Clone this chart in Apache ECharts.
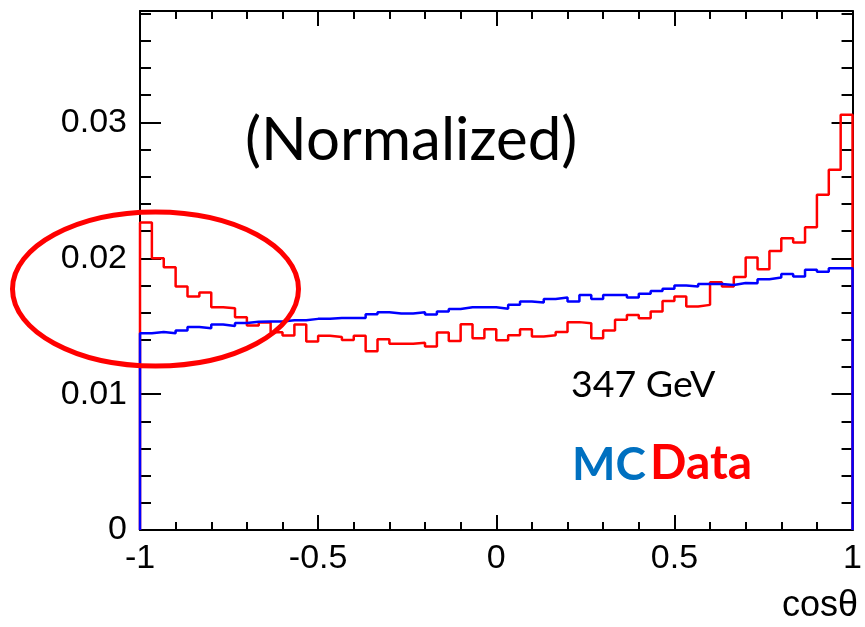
<!DOCTYPE html>
<html>
<head>
<meta charset="utf-8">
<script src="https://cdn.jsdelivr.net/npm/echarts@6/dist/echarts.min.js"></script>
<style>
html,body{margin:0;padding:0;background:#fff;}
#c{width:865px;height:627px;}
</style>
</head>
<body>
<div id="c"></div>
<script>
// ---- data ----
const xRange = [-1, 1];
const nBins = 60;
const dataValues = [
  0.02263, 0.0200, 0.01934, 0.01792, 0.01718, 0.01748, 0.01640, 0.01632, 0.01566, 0.01505,
  0.01527, 0.01455, 0.01432, 0.01512, 0.01387, 0.01429, 0.01421, 0.01399, 0.01429, 0.01316,
  0.01404, 0.01370, 0.01370, 0.01379, 0.01350, 0.01453, 0.01392, 0.01515, 0.01411, 0.01478,
  0.01397, 0.01433, 0.01478, 0.01424, 0.01433, 0.01458, 0.01530, 0.01522, 0.01411, 0.01468,
  0.01548, 0.01583, 0.01559, 0.01608, 0.01686, 0.01718, 0.01645, 0.01657, 0.01824, 0.01792,
  0.01863, 0.02005, 0.01920, 0.02054, 0.02148, 0.02116, 0.02229, 0.02467, 0.02651, 0.03056
];
const mcValues = [
  0.01448, 0.01458, 0.01448, 0.01468, 0.01495, 0.01485, 0.01512, 0.01502, 0.01524, 0.01532,
  0.01534, 0.01534, 0.01544, 0.01544, 0.01554, 0.01554, 0.01561, 0.01561, 0.01561, 0.01588,
  0.01603, 0.01593, 0.01593, 0.01603, 0.01586, 0.01608, 0.01627, 0.01640, 0.01640, 0.01640,
  0.01628, 0.01657, 0.01681, 0.01674, 0.01701, 0.01711, 0.01681, 0.01730, 0.01701, 0.01730,
  0.01730, 0.01711, 0.01738, 0.01760, 0.01775, 0.01799, 0.01792, 0.01811, 0.01811, 0.01804,
  0.01818, 0.01816, 0.01846, 0.01858, 0.01885, 0.01865, 0.01915, 0.01900, 0.01927, 0.01927
];
const xTickLabels = [-1, -0.5, 0, 0.5, 1];
const yTickLabels = [0, 0.01, 0.02, 0.03];
const yMax = 0.0382;

// ---- build step outlines from bin edges ----
function histPoints(vals) {
  const w = (xRange[1] - xRange[0]) / nBins;
  const pts = [[xRange[0], 0]];
  vals.forEach((v, i) => pts.push([xRange[0] + i * w, v]));
  pts.push([xRange[1], vals[vals.length - 1]]);
  pts.push([xRange[1], 0]);
  return pts;
}

const numFont = "'Liberation Sans', Arial, sans-serif";
const txtFont = "Lato, 'Open Sans', sans-serif";

const chart = echarts.init(document.getElementById('c'), null, {renderer: 'canvas'});
const axisLine = {show: true, onZero: false, lineStyle: {color: '#000', width: 2}};
const noLine = {show: false, onZero: false};
const tickStyle = {color: '#000', width: 2};

chart.setOption({
  animation: false,
  backgroundColor: '#fff',
  grid: {left: 140, right: 7, top: 11, bottom: 97, containLabel: false},
  xAxis: [
    {
      type: 'value', min: xRange[0], max: xRange[1], interval: 0.5, position: 'bottom',
      axisLine: axisLine,
      axisTick: {show: true, inside: true, length: 15, lineStyle: tickStyle},
      minorTick: {show: true, splitNumber: 5, length: 8, lineStyle: tickStyle},
      splitLine: {show: false},
      axisLabel: {
        show: true, margin: 12, color: '#000', fontSize: 34, fontFamily: numFont,
        formatter: v => xTickLabels.some(t => Math.abs(t - v) < 1e-9) ? String(v) : ''
      }
    },
    {
      type: 'value', min: xRange[0], max: xRange[1], interval: 0.5, position: 'top',
      axisLine: axisLine,
      axisTick: {show: true, inside: true, length: 15, lineStyle: tickStyle},
      minorTick: {show: true, splitNumber: 5, length: 8, lineStyle: tickStyle},
      splitLine: {show: false}, axisLabel: {show: false}
    }
  ],
  yAxis: [
    {
      type: 'value', min: 0, max: yMax, interval: 0.01, position: 'left',
      axisLine: axisLine,
      axisTick: {show: true, inside: true, length: 21, lineStyle: tickStyle},
      splitLine: {show: false},
      axisLabel: {
        show: true, margin: 13, color: '#000', fontSize: 34, fontFamily: numFont,
        showMaxLabel: false,
        formatter: v => yTickLabels.some(t => Math.abs(t - v) < 1e-9) ? String(v) : ''
      }
    },
    {
      type: 'value', min: 0, max: yMax, interval: 0.002, position: 'left',
      axisLine: noLine,
      axisTick: {show: true, inside: true, length: 11, lineStyle: tickStyle},
      splitLine: {show: false}, axisLabel: {show: false}
    },
    {
      type: 'value', min: 0, max: yMax, interval: 0.01, position: 'right',
      axisLine: axisLine,
      axisTick: {show: true, inside: true, length: 21, lineStyle: tickStyle},
      splitLine: {show: false}, axisLabel: {show: false}
    },
    {
      type: 'value', min: 0, max: yMax, interval: 0.002, position: 'right',
      axisLine: noLine,
      axisTick: {show: true, inside: true, length: 11, lineStyle: tickStyle},
      splitLine: {show: false}, axisLabel: {show: false}
    }
  ],
  series: [
    {
      name: 'Data', type: 'line', step: 'end', xAxisIndex: 0, yAxisIndex: 0,
      data: histPoints(dataValues), symbol: 'none', z: 3,
      lineStyle: {color: '#ff0000', width: 2.5}
    },
    {
      name: 'MC', type: 'line', step: 'end', xAxisIndex: 0, yAxisIndex: 0,
      data: histPoints(mcValues), symbol: 'none', z: 4,
      lineStyle: {color: '#0000ff', width: 2.5}
    }
  ],
  graphic: [
    {type: 'text', left: 245, top: 111, z: 10,
     style: {text: '(Normalized)', fill: '#000', font: "60px " + txtFont}},
    {type: 'text', left: 571, top: 366, z: 10,
     style: {text: '347 GeV', fill: '#000', font: "37.5px " + txtFont}},
    {type: 'text', left: 572, top: 442, z: 10,
     style: {text: 'MC', fill: '#0070c0', font: "bold 46px " + txtFont}},
    {type: 'text', left: 650, top: 440, z: 10,
     style: {text: 'Data', fill: '#ff0000', font: "bold 48px " + txtFont}},
    {type: 'text', right: 7, top: 588, z: 10,
     style: {text: 'cosθ', fill: '#000', font: "36px " + numFont}},
    {type: 'ellipse', z: 12,
     shape: {cx: 155.5, cy: 289, rx: 143, ry: 77},
     style: {fill: 'none', stroke: '#ff0000', lineWidth: 5}}
  ]
});
</script>
</body>
</html>
